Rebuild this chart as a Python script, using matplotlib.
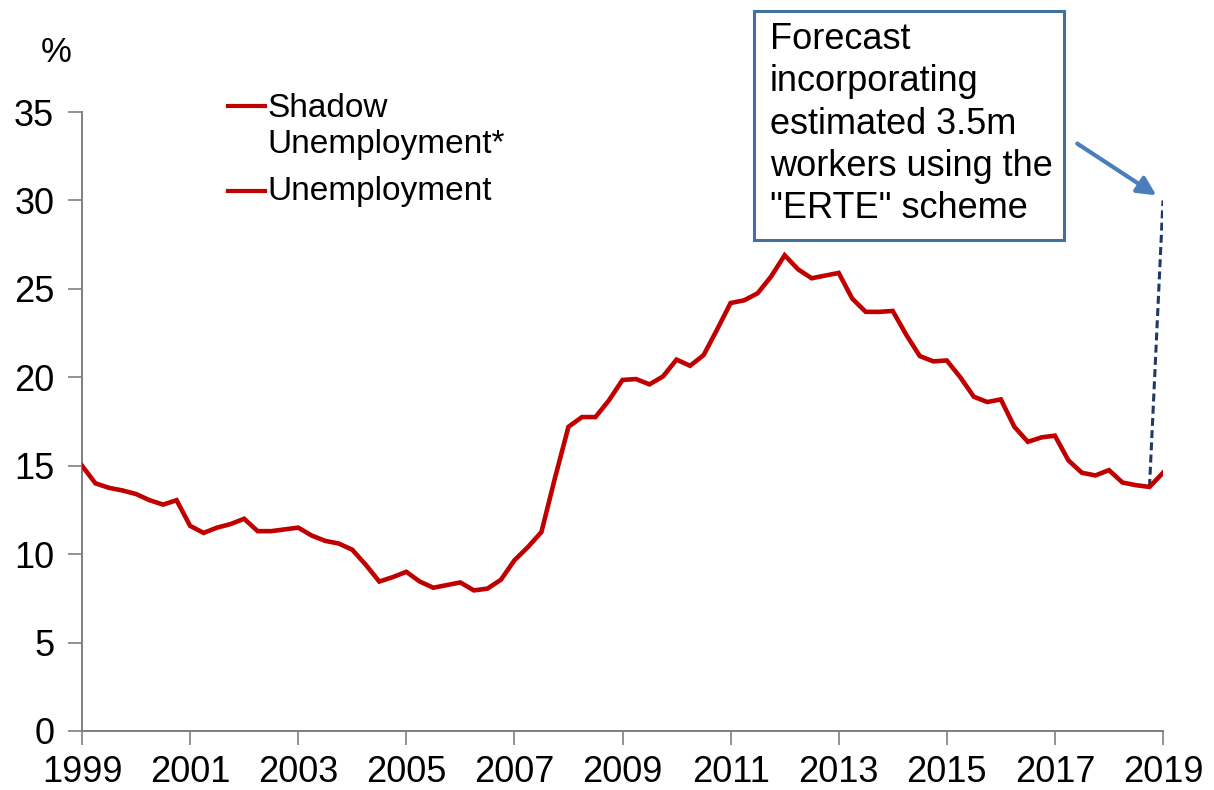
import matplotlib
matplotlib.use("Agg")
import matplotlib.pyplot as plt
import numpy as np
from matplotlib.lines import Line2D
from matplotlib.patches import Rectangle

plt.rcParams['font.family'] = ['Liberation Sans', 'DejaVu Sans']

# quarterly unemployment rate (%), 1999 Q1 .. 2019 Q1
start_year = 1999
unemployment = [
    15.0, 14.0, 13.75, 13.6, 13.4, 13.05, 12.8, 13.05,
    11.6, 11.2, 11.5, 11.7, 12.0, 11.3, 11.3, 11.4,
    11.5, 11.05, 10.75, 10.6, 10.25, 9.4, 8.45, 8.7,
    9.0, 8.45, 8.1, 8.25, 8.4, 7.95, 8.05, 8.55,
    9.65, 10.4, 11.25, 14.3, 17.2, 17.75, 17.75, 18.7,
    19.85, 19.9, 19.6, 20.05, 21.0, 20.65, 21.25, 22.7,
    24.2, 24.35, 24.75, 25.7, 26.9, 26.1, 25.6, 25.75,
    25.9, 24.45, 23.7, 23.7, 23.75, 22.4, 21.2, 20.9,
    20.95, 20.0, 18.9, 18.6, 18.75, 17.2, 16.35, 16.6,
    16.7, 15.3, 14.6, 14.45, 14.75, 14.05, 13.9, 13.8,
    14.6,
]
forecast_x = [2018.75, 2019.0]
forecast_y = [13.8, 30.0]

year_ticks = list(range(1999, 2020, 2))
y_ticks = [0, 5, 10, 15, 20, 25, 30, 35]

legend_labels = ['Shadow\nUnemployment*', 'Unemployment']
box_text = 'Forecast\nincorporating\nestimated 3.5m\nworkers using the\n"ERTE" scheme'

red = '#C00000'

fig = plt.figure(figsize=(12.14, 7.90), dpi=100)
ax = fig.add_axes([82 / 1214, 59 / 790, 1081 / 1214, 619 / 790])

x = start_year + np.arange(len(unemployment)) / 4
ax.plot(x, unemployment, color=red, lw=3.3, solid_joinstyle='miter', zorder=3)
ax.plot(forecast_x, forecast_y, color='#1F3864', lw=2.2, dashes=(2.6, 1.4), zorder=2)

ax.set_xlim(1999, 2019)
ax.set_ylim(0, 35)
ax.set_xticks(year_ticks)
ax.set_yticks(y_ticks)
ax.tick_params(axis='both', labelsize=26, length=10, width=1.2, color='#7f7f7f')
ax.tick_params(axis='y', pad=10)
ax.tick_params(axis='x', pad=7)
for side in ['top', 'right']:
    ax.spines[side].set_visible(False)
for side in ['left', 'bottom']:
    ax.spines[side].set_color('#7f7f7f')
    ax.spines[side].set_linewidth(1.4)

# legend drawn by hand so each handle sits on the first line of its label
legend_handle_rows = [106, 191]
legend_text_tops = [93, 176]
for row, top, label in zip(legend_handle_rows, legend_text_tops, legend_labels):
    yy = 1 - row / 790
    fig.add_artist(Line2D([228 / 1214, 265 / 1214], [yy, yy], color=red, lw=3,
                          transform=fig.transFigure))
    fig.text(267 / 1214, 1 - top / 790, label, fontsize=24, ha='left', va='top',
             linespacing=1.22)

fig.text(56 / 1214, 1 - 52 / 790, '%', fontsize=25, ha='center', va='center')

# forecast callout box and arrow
fig.patches.append(Rectangle((754 / 1214, 1 - 240 / 790), 310 / 1214, 229 / 790,
                             transform=fig.transFigure, fill=False,
                             edgecolor='#41719C', lw=2.2, figure=fig))
fig.text(770 / 1214, 1 - 22 / 790, box_text, fontsize=26, ha='left', va='top', linespacing=1.27)

ax.annotate('', xy=(2018.92, 30.2), xytext=(2017.37, 33.3),
            arrowprops=dict(arrowstyle='-|>', color='#4A7EBB', lw=3, mutation_scale=28),
            annotation_clip=False)

fig.savefig('out.png', dpi=100)
